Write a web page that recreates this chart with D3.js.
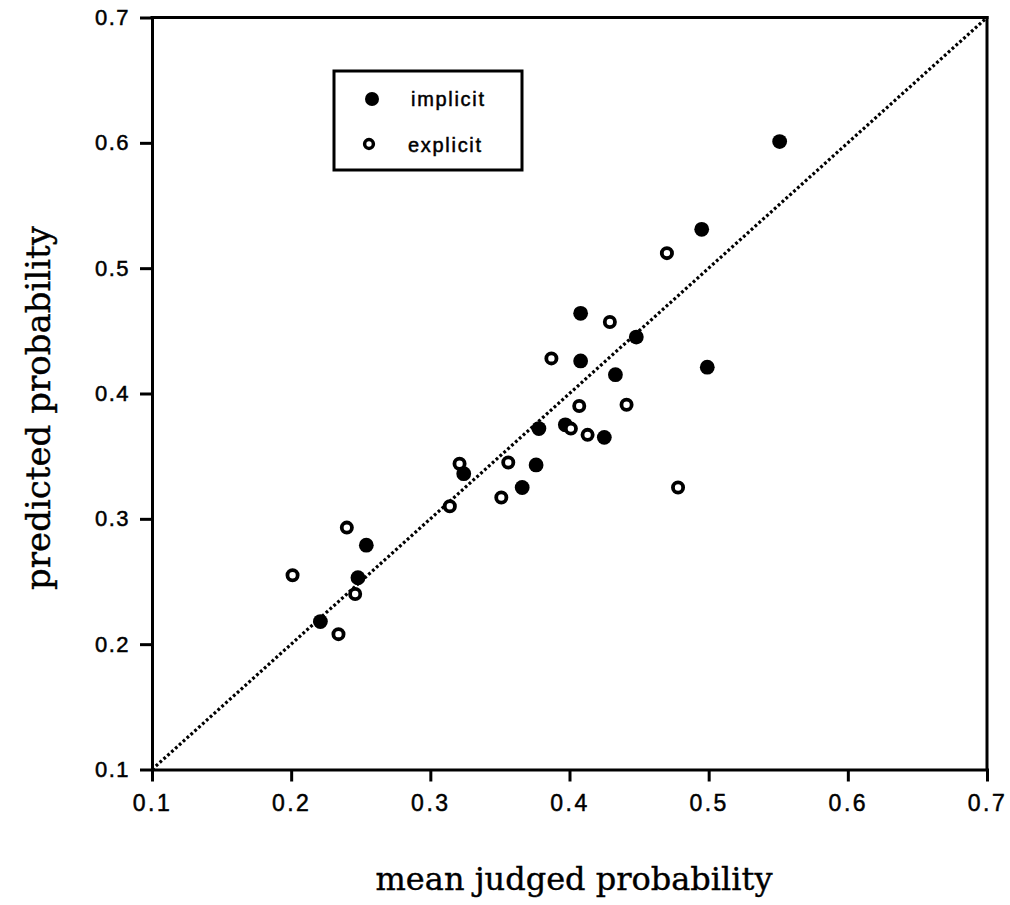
<!DOCTYPE html>
<html>
<head>
<meta charset="utf-8">
<script src="https://cdn.jsdelivr.net/npm/d3@7"></script>
<style>
  body { margin: 0; background: #fff; }
  svg { display: block; }
</style>
</head>
<body>
<script>
// values
var implicitX = [0.551, 0.495, 0.408, 0.448, 0.408, 0.499, 0.433, 0.378, 0.397, 0.425, 0.376, 0.324, 0.366, 0.254, 0.248, 0.221];
var implicitY = [0.601, 0.531, 0.464, 0.445, 0.426, 0.421, 0.415, 0.372, 0.375, 0.365, 0.343, 0.336, 0.325, 0.279, 0.253, 0.218];
var explicitX = [0.470, 0.429, 0.387, 0.407, 0.441, 0.401, 0.413, 0.356, 0.321, 0.351, 0.314, 0.240, 0.478, 0.201, 0.246, 0.234];
var explicitY = [0.512, 0.457, 0.428, 0.390, 0.391, 0.372, 0.367, 0.345, 0.344, 0.317, 0.310, 0.293, 0.325, 0.255, 0.240, 0.208];
var ticks = [0.1, 0.2, 0.3, 0.4, 0.5, 0.6, 0.7];
var legendLabels = ["implicit", "explicit"];

var W = 1010, H = 905;
var margin = {top: 17.5, right: 23, bottom: 135.5, left: 152};

var svg = d3.select("body").append("svg")
    .attr("width", W)
    .attr("height", H);

var x = d3.scaleLinear().domain([0.1, 0.7]).range([margin.left, W - margin.right]);
var y = d3.scaleLinear().domain([0.1, 0.7]).range([H - margin.bottom, margin.top]);

var implicitPts = implicitX.map(function(d, i) { return {x: d, y: implicitY[i]}; });
var explicitPts = explicitX.map(function(d, i) { return {x: d, y: explicitY[i]}; });

//frame top + right
svg.append("line")
    .attr("x1", x(0.1)).attr("x2", x(0.7))
    .attr("y1", y(0.7)).attr("y2", y(0.7))
    .attr("stroke", "#000").attr("stroke-width", 3).attr("stroke-linecap", "square");
svg.append("line")
    .attr("x1", x(0.7)).attr("x2", x(0.7))
    .attr("y1", y(0.7)).attr("y2", y(0.1))
    .attr("stroke", "#000").attr("stroke-width", 3).attr("stroke-linecap", "square");

var xAxis = d3.axisBottom(x).tickValues(ticks).tickSize(12).tickSizeOuter(0).tickPadding(13)
    .tickFormat(d3.format(".1f"));
var yAxis = d3.axisLeft(y).tickValues(ticks).tickSize(12).tickSizeOuter(0).tickPadding(10)
    .tickFormat(d3.format(".1f"));

var gx = svg.append("g")
    .attr("transform", "translate(0," + y(0.1) + ")")
    .call(xAxis);
var gy = svg.append("g")
    .attr("transform", "translate(" + x(0.1) + ",0)")
    .call(yAxis);

[gx, gy].forEach(function(g) {
  g.select(".domain").attr("stroke-width", 3).attr("stroke-linecap", "square");
  g.selectAll(".tick line").attr("stroke-width", 3);
  g.selectAll(".tick text")
    .attr("fill", "#000")
    .attr("stroke", "#000")
    .attr("stroke-width", 0.5)
    .style("font-family", "'Liberation Sans', Arial, sans-serif");
});
gx.selectAll(".tick text").style("font-size", "23px").style("letter-spacing", "2.5px");
gy.selectAll(".tick text").style("font-size", "22px").style("letter-spacing", "1.5px");

// diagonal y = x
svg.append("line")
    .attr("x1", x(0.1)).attr("y1", y(0.1))
    .attr("x2", x(0.7)).attr("y2", y(0.7))
    .attr("stroke", "#000")
    .attr("stroke-width", 3.2)
    .attr("stroke-dasharray", "2.8 2.4");

svg.selectAll(".implicit")
    .data(implicitPts)
  .enter().append("circle")
    .attr("class", "implicit")
    .attr("cx", function(d) { return x(d.x); })
    .attr("cy", function(d) { return y(d.y); })
    .attr("r", 7.4)
    .attr("fill", "#000");

svg.selectAll(".explicit")
    .data(explicitPts)
  .enter().append("circle")
    .attr("class", "explicit")
    .attr("cx", function(d) { return x(d.x); })
    .attr("cy", function(d) { return y(d.y); })
    .attr("r", 5.1)
    .attr("fill", "#fff")
    .attr("stroke", "#000")
    .attr("stroke-width", 3.8);

// legend
var legend = svg.append("g").attr("transform", "translate(334,71)");
legend.append("rect")
    .attr("width", 188).attr("height", 99)
    .attr("fill", "#fff").attr("stroke", "#000").attr("stroke-width", 3);
legend.append("circle").attr("cx", 38).attr("cy", 28).attr("r", 7).attr("fill", "#000");
legend.append("circle").attr("cx", 35).attr("cy", 73).attr("r", 4.4)
    .attr("fill", "#fff").attr("stroke", "#000").attr("stroke-width", 3.5);
legend.selectAll("text.lab")
    .data(legendLabels)
  .enter().append("text")
    .attr("class", "lab")
    .attr("x", function(d, i) { return i == 0 ? 77 : 74; })
    .attr("y", function(d, i) { return 35 + i * 46; })
    .attr("stroke", "#000")
    .attr("stroke-width", 0.5)
    .style("font-family", "'Liberation Sans', Arial, sans-serif")
    .style("font-size", "20px")
    .style("letter-spacing", "1.7px")
    .text(function(d) { return d; });

// axis titles
svg.append("text")
    .attr("x", 574).attr("y", 890)
    .attr("text-anchor", "middle")
    .attr("stroke", "#000")
    .attr("stroke-width", 0.4)
    .style("font-family", "'DejaVu Serif', serif")
    .style("font-size", "32px")
    .text("mean judged probability");

svg.append("text")
    .attr("transform", "translate(50,408) rotate(-90)")
    .attr("text-anchor", "middle")
    .attr("stroke", "#000")
    .attr("stroke-width", 0.4)
    .style("font-family", "'DejaVu Serif', serif")
    .style("font-size", "34px")
    .text("predicted probability");
</script>
</body>
</html>
